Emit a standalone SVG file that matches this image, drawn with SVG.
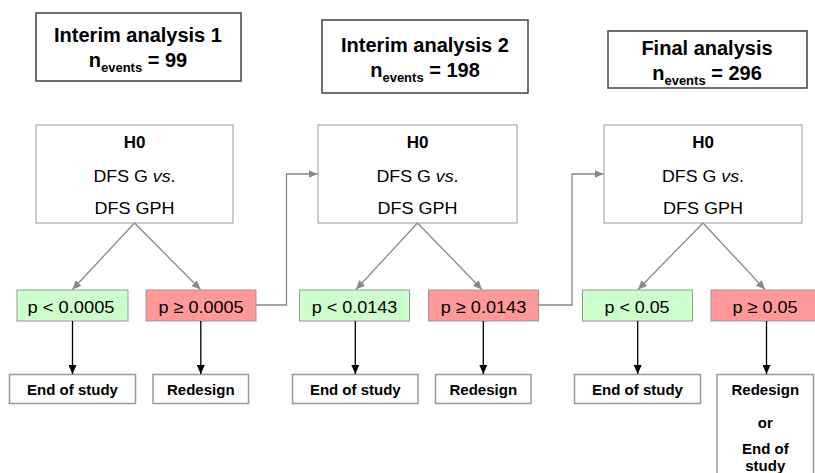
<svg xmlns="http://www.w3.org/2000/svg" width="815" height="473" viewBox="0 0 815 473">
<style>
text{font-family:"Liberation Sans",Arial,sans-serif;fill:#000;text-anchor:middle}
.title{fill:#fff;stroke:#404040;stroke-width:1.5}
.ttl{font-size:20px;font-weight:bold}
.sub{font-size:13px}
.h0{fill:#fff;stroke:#999;stroke-width:1}
.h0b{font-size:17px;font-weight:bold}
.h0t{font-size:17px}
.pg{fill:#ccffcc;stroke:#999;stroke-width:1}
.pr{fill:#ff9999;stroke:#999;stroke-width:1}
.pt{font-size:17px}
.out{fill:#fff;stroke:#999;stroke-width:1.5}
.ot{font-size:15px;font-weight:bold}
.gl{fill:none;stroke:#888;stroke-width:1.3}
.bl{fill:none;stroke:#000;stroke-width:1.3}
</style>
<defs>
<marker id="ag" markerUnits="userSpaceOnUse" markerWidth="10" markerHeight="8" refX="9" refY="4" orient="auto"><path d="M0,0L9,4L0,8z" fill="#888"/></marker>
<marker id="ab" markerUnits="userSpaceOnUse" markerWidth="10" markerHeight="8" refX="9" refY="4" orient="auto"><path d="M0,0L9,4L0,8z" fill="#000"/></marker>
</defs>
<g id="title1"><rect class="title" x="36" y="13" width="205" height="68"/><text class="ttl" x="138" y="41.5">Interim analysis 1</text><text class="ttl" x="138" y="67">n<tspan class="sub" dy="5">events</tspan><tspan dy="-5"> = 99</tspan></text></g>
<g id="title2"><rect class="title" x="322" y="20" width="206" height="73"/><text class="ttl" x="425" y="51.5">Interim analysis 2</text><text class="ttl" x="425" y="77">n<tspan class="sub" dy="5">events</tspan><tspan dy="-5"> = 198</tspan></text></g>
<g id="title3"><rect class="title" x="608" y="31" width="199" height="57"/><text class="ttl" x="707" y="54.5">Final analysis</text><text class="ttl" x="707" y="80">n<tspan class="sub" dy="5">events</tspan><tspan dy="-5"> = 296</tspan></text></g>

<g id="h0_1"><rect class="h0" x="36" y="125" width="197" height="98"/><text class="h0b" x="134.5" y="147.5">H0</text><text class="h0t" x="134.5" y="181.5" textLength="82" lengthAdjust="spacingAndGlyphs">DFS G <tspan font-style="italic">vs</tspan>.</text><text class="h0t" x="134.5" y="214" textLength="80" lengthAdjust="spacingAndGlyphs">DFS GPH</text></g>
<g id="h0_2"><rect class="h0" x="318" y="125" width="199" height="98"/><text class="h0b" x="417.5" y="147.5">H0</text><text class="h0t" x="417.5" y="181.5" textLength="82" lengthAdjust="spacingAndGlyphs">DFS G <tspan font-style="italic">vs</tspan>.</text><text class="h0t" x="417.5" y="214" textLength="80" lengthAdjust="spacingAndGlyphs">DFS GPH</text></g>
<g id="h0_3"><rect class="h0" x="604" y="125" width="198" height="98"/><text class="h0b" x="703" y="147.5">H0</text><text class="h0t" x="703" y="181.5" textLength="82" lengthAdjust="spacingAndGlyphs">DFS G <tspan font-style="italic">vs</tspan>.</text><text class="h0t" x="703" y="214" textLength="80" lengthAdjust="spacingAndGlyphs">DFS GPH</text></g>

<g id="pg1"><rect class="pg" x="17" y="290" width="111" height="31"/><text class="pt" x="71" y="313" textLength="87" lengthAdjust="spacingAndGlyphs">p &lt; 0.0005</text></g>
<g id="pr1"><rect class="pr" x="146" y="290" width="110" height="31"/><text class="pt" x="201" y="313" textLength="85" lengthAdjust="spacingAndGlyphs">p ≥ 0.0005</text></g>
<g id="pg2"><rect class="pg" x="299.5" y="290" width="110" height="31"/><text class="pt" x="354.5" y="313" textLength="85.5" lengthAdjust="spacingAndGlyphs">p &lt; 0.0143</text></g>
<g id="pr2"><rect class="pr" x="428.5" y="290" width="110" height="31"/><text class="pt" x="483.5" y="313" textLength="85.5" lengthAdjust="spacingAndGlyphs">p ≥ 0.0143</text></g>
<g id="pg3"><rect class="pg" x="582.5" y="290" width="110" height="31"/><text class="pt" x="637" y="313" textLength="65" lengthAdjust="spacingAndGlyphs">p &lt; 0.05</text></g>
<g id="pr3"><rect class="pr" x="711" y="290" width="105" height="31"/><text class="pt" x="765" y="313" textLength="65" lengthAdjust="spacingAndGlyphs">p ≥ 0.05</text></g>

<g id="end1"><rect class="out" x="9.5" y="374.5" width="126" height="29"/><text class="ot" x="72.5" y="395">End of study</text></g>
<g id="red1"><rect class="out" x="153" y="374.5" width="95.5" height="29"/><text class="ot" x="200.8" y="395">Redesign</text></g>
<g id="end2"><rect class="out" x="292.5" y="374.5" width="125.5" height="29"/><text class="ot" x="355.3" y="395">End of study</text></g>
<g id="red2"><rect class="out" x="435.5" y="374.5" width="95.5" height="29"/><text class="ot" x="483.3" y="395">Redesign</text></g>
<g id="end3"><rect class="out" x="574.5" y="374.5" width="126" height="29"/><text class="ot" x="637.5" y="395">End of study</text></g>
<g id="red3"><rect class="out" x="717" y="374.5" width="96.5" height="110"/><text class="ot" x="765.3" y="395">Redesign</text><text class="ot" x="765.3" y="428">or</text><text class="ot" x="765.3" y="454">End of</text><text class="ot" x="765.3" y="470.5">study</text></g>

<g id="connectors">
<path class="gl" marker-end="url(#ag)" d="M134.5,223L72.5,289.5"/>
<path class="gl" marker-end="url(#ag)" d="M134.5,223L200.5,289.5"/>
<path class="gl" marker-end="url(#ag)" d="M417.5,223L356,289.5"/>
<path class="gl" marker-end="url(#ag)" d="M417.5,223L482,289.5"/>
<path class="gl" marker-end="url(#ag)" d="M703,223L638,289.5"/>
<path class="gl" marker-end="url(#ag)" d="M703,223L765,289.5"/>
<path class="gl" marker-end="url(#ag)" d="M256,305H286.5V174H317.5"/>
<path class="gl" marker-end="url(#ag)" d="M538.5,305H572V174H603.5"/>
<path class="bl" marker-end="url(#ab)" d="M72.5,321V374"/>
<path class="bl" marker-end="url(#ab)" d="M200.8,321V374"/>
<path class="bl" marker-end="url(#ab)" d="M355.3,321V374"/>
<path class="bl" marker-end="url(#ab)" d="M483.3,321V374"/>
<path class="bl" marker-end="url(#ab)" d="M637.7,321V374"/>
<path class="bl" marker-end="url(#ab)" d="M766.5,321V374"/>
</g>
</svg>
